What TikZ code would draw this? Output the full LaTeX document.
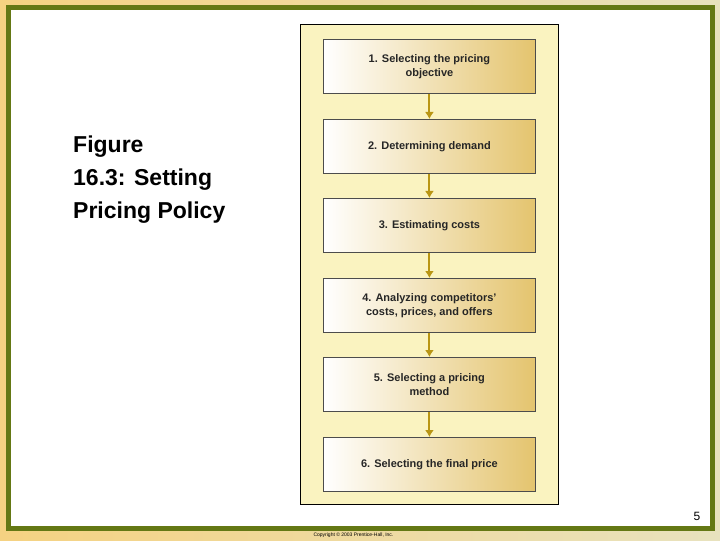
\documentclass[tikz,border=0pt]{standalone}
\usepackage{fontspec}
\setmainfont{Liberation Sans}
\usetikzlibrary{arrows.meta}
\definecolor{olive}{RGB}{100,120,20}
\definecolor{gold}{RGB}{185,150,20}
\definecolor{boxr}{RGB}{228,196,110}
\definecolor{panel}{RGB}{250,243,192}
\definecolor{bgt}{RGB}{245,210,130}
\definecolor{bgb}{RGB}{232,226,190}
\begin{document}
\begin{tikzpicture}[x=1pt,y=-1pt,
  stepbox/.style={draw=black!70, line width=0.8pt, left color=white, right color=boxr, minimum width=212pt, minimum height=54pt, align=center, font=\bfseries\fontsize{11}{14}\selectfont, text=black!85, anchor=north west},
  arr/.style={draw=gold, line width=2pt, -{Latex[length=7pt,width=9pt]}}]
\shade[left color=bgt, right color=bgb] (0,0) rectangle (720,540);
\fill[white] (8,8) rectangle (712,528);
\draw[olive, line width=5pt] (8,8) rectangle (712,528);
\fill[panel] (300,24) rectangle (558,504);
\draw[black, line width=0.8pt] (300,24) rectangle (558,504);
\node[stepbox] (s1) at (323,39) {1. Selecting the pricing\\objective};
\node[stepbox] (s2) at (323,119) {2. Determining demand};
\node[stepbox] (s3) at (323,198) {3. Estimating costs};
\node[stepbox] (s4) at (323,278) {4. Analyzing competitors’\\costs, prices, and offers};
\node[stepbox] (s5) at (323,357) {5. Selecting a pricing\\method};
\node[stepbox] (s6) at (323,437) {6. Selecting the final price};
\foreach \a/\b in {s1/s2,s2/s3,s3/s4,s4/s5,s5/s6} \draw[arr] (\a.south) -- (\b.north);
\node[anchor=north west, align=left, inner sep=0pt, font=\bfseries\fontsize{23}{33}\selectfont] (title) at (73,136) {Figure\\16.3: Setting\\Pricing Policy};
\node[font=\fontsize{12}{14}\selectfont] (pg) at (697,516) {5};
\node[font=\fontsize{5}{6}\selectfont, anchor=west] (cp) at (310,535) {Copyright © 2003 Prentice-Hall, Inc.};
\end{tikzpicture}
\end{document}
